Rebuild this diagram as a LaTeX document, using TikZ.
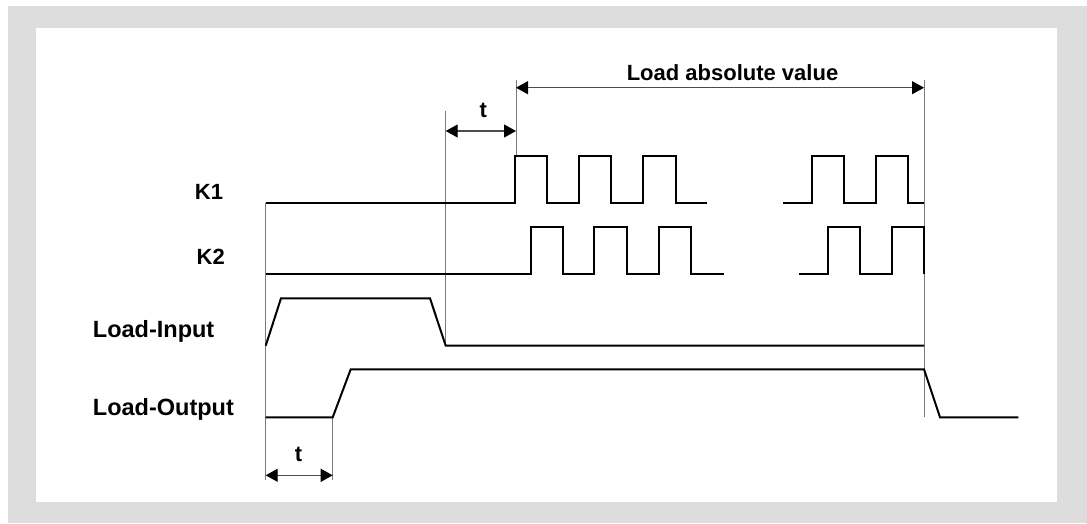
\documentclass[tikz,border=0pt]{standalone}
\usepackage{fontspec}
\setmainfont{Liberation Sans}
\usetikzlibrary{arrows.meta}
\definecolor{framegray}{HTML}{DDDDDD}
\definecolor{guidegray}{HTML}{7A7A7A}
\tikzset{
  sig/.style={line width=2pt, black, line join=miter},
  guide/.style={line width=1pt, guidegray},
  dim/.style={line width=1.1pt, draw=black!70, {Triangle[length=12pt,width=13pt,color=black]}-{Triangle[length=12pt,width=13pt,color=black]}},
  lbl/.style={font=\bfseries\fontsize{23.5}{26}\selectfont, inner sep=0pt},
  tlbl/.style={font=\bfseries\fontsize{22}{25}\selectfont, inner sep=0pt},
  klbl/.style={font=\bfseries\fontsize{22}{25}\selectfont, inner sep=0pt}
}
\begin{document}
\begin{tikzpicture}[x=1pt,y=-1pt]
\useasboundingbox (0,0) rectangle (1087,523);
\fill[white] (0,0) rectangle (1087,523);
\fill[framegray] (8,6) rectangle (1087,523);
\fill[white] (36,28) rectangle (1057,502);

% guides
\draw[guide] (265.7,203.3) -- (265.7,480);
\draw[guide] (332.7,417.3) -- (332.7,480);
\draw[guide] (445.7,111) -- (445.7,345.7);
\draw[guide] (516,80) -- (516,156);
\draw[guide] (924,80) -- (924,417.3);

% K1
\draw[sig] (265.7,203.3) -- (515,203.3) -- (515,156) -- (546.7,156) -- (546.7,203.3) -- (579,203.3) -- (579,156) -- (611,156) -- (611,203.3) -- (643.3,203.3) -- (643.3,156) -- (675.7,156) -- (675.7,203.3) -- (707.3,203.3);
\draw[sig] (783.3,203.3) -- (811.7,203.3) -- (811.7,156) -- (844.3,156) -- (844.3,203.3) -- (875.7,203.3) -- (875.7,156) -- (908.3,156) -- (908.3,203.3) -- (924,203.3);
% K2
\draw[sig] (265.7,274.3) -- (531,274.3) -- (531,227.3) -- (562.7,227.3) -- (562.7,274.3) -- (594.3,274.3) -- (594.3,227.3) -- (626.7,227.3) -- (626.7,274.3) -- (659,274.3) -- (659,227.3) -- (691,227.3) -- (691,274.3) -- (724,274.3);
\draw[sig] (799.3,274.3) -- (828.3,274.3) -- (828.3,227.3) -- (860,227.3) -- (860,274.3) -- (892,274.3) -- (892,227.3) -- (924,227.3) -- (924,274.3);
% Load-Input
\draw[sig] (265.7,345.7) -- (281,298.3) -- (430,298.3) -- (445.7,345.7) -- (924,345.7);
% Load-Output
\draw[sig] (265.7,417.3) -- (332.7,417.3) -- (350.7,369.3) -- (924,369.3) -- (940,417.3) -- (1018.3,417.3);

% dimension coordinates
\coordinate (bl) at (265.7,475.3);
\coordinate (br) at (332.7,475.3);
\coordinate (ml) at (445.7,131);
\coordinate (mr) at (516,131);
\coordinate (tl) at (516,87.7);
\coordinate (tr) at (924,87.7);
\draw[dim] (bl) -- (br);
\draw[dim] (ml) -- (mr);
\draw[dim] (tl) -- (tr);

% labels
\node[tlbl, anchor=base] (tb) at (298.5,461.7) {t};
\node[tlbl, anchor=base] (tm) at (483.3,117.3) {t};
\node[tlbl, anchor=base] (lav) at (732.5,80) {Load absolute value};
\node[klbl, anchor=base east] (k1) at (223.3,199.3) {K1};
\node[klbl, anchor=base east] (k2) at (225,264.3) {K2};
\node[lbl, anchor=base west] (li) at (92.7,337.3) {Load-Input};
\node[lbl, anchor=base west] (lo) at (92.7,415) {Load-Output};
\end{tikzpicture}
\end{document}
